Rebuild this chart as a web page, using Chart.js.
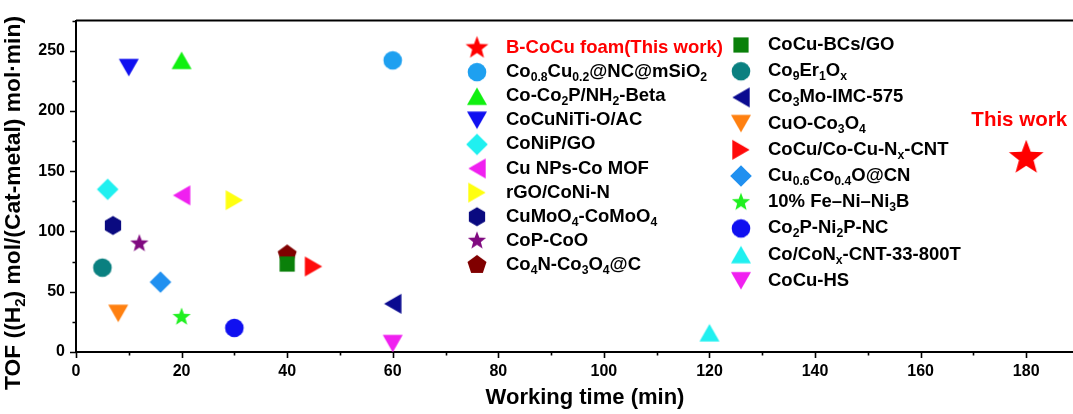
<!DOCTYPE html>
<html>
<head>
<meta charset="utf-8">
<style>
  html, body { margin: 0; padding: 0; background: #fff; overflow: hidden; }
  #wrap { width: 1092px; height: 414px; }
</style>
<script src="https://cdn.jsdelivr.net/npm/chart.js@4/dist/chart.umd.min.js"></script>
</head>
<body>
<div id="wrap"><canvas id="tofChart" width="1092" height="414"></canvas></div>
<script>
// Catalyst names; "_{...}" marks a subscript
const catalysts = [
  'B-CoCu foam(This work)',
  'Co_{0.8}Cu_{0.2}@NC@mSiO_{2}',
  'Co-Co_{2}P/NH_{2}-Beta',
  'CoCuNiTi-O/AC',
  'CoNiP/GO',
  'Cu NPs-Co MOF',
  'rGO/CoNi-N',
  'CuMoO_{4}-CoMoO_{4}',
  'CoP-CoO',
  'Co_{4}N-Co_{3}O_{4}@C',
  'CoCu-BCs/GO',
  'Co_{9}Er_{1}O_{x}',
  'Co_{3}Mo-IMC-575',
  'CuO-Co_{3}O_{4}',
  'CoCu/Co-Cu-N_{x}-CNT',
  'Cu_{0.6}Co_{0.4}O@CN',
  '10% Fe\u2013Ni\u2013Ni_{3}B',
  'Co_{2}P-Ni_{2}P-NC',
  'Co/CoN_{x}-CNT-33-800T',
  'CoCu-HS'
];

// Working time (min)
const workingTime = [180, 60, 20, 10, 6, 20, 30, 7, 12, 40,
                     40, 5, 60, 8, 45, 16, 20, 30, 120, 60];

// TOF ((H2) mol/(Cat-metal) mol·min)
const tofValues = [161, 242, 242, 236, 135, 130, 126, 105, 90, 81,
                   73, 70, 40, 32, 71, 58, 29, 20, 16, 7];

// Labelled tick values
const xTickLabels = [0, 20, 40, 60, 80, 100, 120, 140, 160, 180];
const yTickLabels = [0, 50, 100, 150, 200, 250];

const xTitle = 'Working time (min)';
const yTitle = 'TOF ((H_{2}) mol/(Cat-metal) mol\u00B7min)';
const highlightText = 'This work';

// Marker appearance per catalyst
const markerShapes = ['star', 'circle', 'triUp', 'triDown', 'diamond', 'triLeft', 'triRight', 'hexagon', 'star', 'pentagon',
                      'square', 'circle', 'triLeft', 'triDown', 'triRight', 'diamond', 'star', 'circle', 'triUp', 'triDown'];
const markerColors = ['#ff0000', '#1ea0f0', '#10f010', '#1010f0', '#20f0f0', '#f020f0', '#ffff10', '#0a0a80', '#800a80', '#800000',
                      '#0a800a', '#0a8080', '#0a0a90', '#ff8010', '#ff0a0a', '#2090f0', '#20f020', '#1010f0', '#20f0f0', '#f020f0'];

const FONT = '"Liberation Sans", Arial, Helvetica, sans-serif';

function polygonPath(g, n, r, startDeg) {
  for (let k = 0; k < n; k++) {
    const a = (startDeg + k * 360 / n) * Math.PI / 180;
    const px = r * Math.cos(a), py = r * Math.sin(a);
    if (k === 0) g.moveTo(px, py); else g.lineTo(px, py);
  }
}

function makeMarker(shape, color, scale) {
  const s = scale || 1;
  const size = Math.ceil(44 * s);
  const c = document.createElement('canvas');
  c.width = size; c.height = size;
  const g = c.getContext('2d');
  g.translate(size / 2, size / 2);
  g.fillStyle = color;
  g.beginPath();
  const h = 8.66 * s, hw = 10 * s;
  switch (shape) {
    case 'circle': g.arc(0, 0, 9.3 * s, 0, Math.PI * 2); break;
    case 'square': g.rect(-7.6 * s, -7.6 * s, 15.2 * s, 15.2 * s); break;
    case 'diamond': polygonPath(g, 4, 10.8 * s, -90); break;
    case 'triUp': g.moveTo(0, -h); g.lineTo(hw, h); g.lineTo(-hw, h); break;
    case 'triDown': g.moveTo(0, h); g.lineTo(hw, -h); g.lineTo(-hw, -h); break;
    case 'triLeft': g.moveTo(-h, 0); g.lineTo(h, -hw); g.lineTo(h, hw); break;
    case 'triRight': g.moveTo(h, 0); g.lineTo(-h, -hw); g.lineTo(-h, hw); break;
    case 'pentagon': polygonPath(g, 5, 10 * s, -90); break;
    case 'hexagon': polygonPath(g, 6, 9.4 * s, -90); break;
    case 'star': {
      const R = 9.6 * s, r = R * 0.42;
      for (let k = 0; k < 10; k++) {
        const a = (-90 + k * 36) * Math.PI / 180;
        const rr = k % 2 === 0 ? R : r;
        if (k === 0) g.moveTo(rr * Math.cos(a), rr * Math.sin(a));
        else g.lineTo(rr * Math.cos(a), rr * Math.sin(a));
      }
      break;
    }
  }
  g.closePath();
  g.fill();
  return c;
}

// Text with subscripts
function parseRich(str) {
  const parts = [];
  const re = /_\{([^}]*)\}/g;
  let last = 0, m;
  while ((m = re.exec(str))) {
    if (m.index > last) parts.push({ t: str.slice(last, m.index), sub: false });
    parts.push({ t: m[1], sub: true });
    last = re.lastIndex;
  }
  if (last < str.length) parts.push({ t: str.slice(last), sub: false });
  return parts;
}

function drawRich(ctx, str, x, y, size, color, align) {
  const parts = parseRich(str);
  const subSize = size * 0.66;
  const fontOf = sub => 'bold ' + (sub ? subSize : size) + 'px ' + FONT;
  let total = 0;
  parts.forEach(p => { ctx.font = fontOf(p.sub); p.w = ctx.measureText(p.t).width; total += p.w; });
  let cx = align === 'center' ? x - total / 2 : x;
  ctx.fillStyle = color;
  ctx.textBaseline = 'middle';
  ctx.textAlign = 'left';
  parts.forEach(p => {
    ctx.font = fontOf(p.sub);
    ctx.fillText(p.t, cx, y + (p.sub ? size * 0.3 : 0));
    cx += p.w;
  });
}

const plainName = s => s.replace(/_\{([^}]*)\}/g, '$1');

const plotMarkers = markerShapes.map((sh, i) => makeMarker(sh, markerColors[i], i === 0 ? 1.9 : 1));
const legendMarkers = markerShapes.map((sh, i) => makeMarker(sh, markerColors[i], i === 0 ? 1.25 : 1));

const datasets = catalysts.map((name, i) => ({
  label: plainName(name),
  data: [{ x: workingTime[i], y: tofValues[i] }],
  pointStyle: plotMarkers[i],
  pointRadius: 10,
  pointHoverRadius: 10,
  backgroundColor: markerColors[i],
  borderWidth: 0,
  order: name === 'CoCu-BCs/GO' ? -1 : i
}));

// Axis ticks (major labelled, minor unlabelled), frame, titles
const axisDecor = {
  id: 'axisDecor',
  afterDraw(chart) {
    const { ctx, chartArea: ca, scales: { x, y } } = chart;
    ctx.save();
    ctx.strokeStyle = '#000';
    ctx.lineWidth = 1.6;
    ctx.beginPath();
    x.ticks.forEach(t => {
      const px = Math.round(x.getPixelForValue(t.value)) + 0.5;
      const len = xTickLabels.includes(t.value) ? 6 : 3.5;
      ctx.moveTo(px, ca.bottom); ctx.lineTo(px, ca.bottom + len);
    });
    y.ticks.forEach(t => {
      const py = Math.round(y.getPixelForValue(t.value)) + 0.5;
      const len = yTickLabels.includes(t.value) ? 6 : 3.5;
      ctx.moveTo(ca.left, py); ctx.lineTo(ca.left - len, py);
    });
    ctx.stroke();
    // top and right frame
    ctx.lineWidth = 2;
    ctx.beginPath();
    ctx.moveTo(ca.left, ca.top); ctx.lineTo(ca.right, ca.top); ctx.lineTo(ca.right, ca.bottom);
    ctx.stroke();
    // axis titles
    drawRich(ctx, xTitle, ca.left + 509, 398, 22, '#000', 'center');
    ctx.translate(14, 203);
    ctx.rotate(-Math.PI / 2);
    drawRich(ctx, yTitle, 0, 0, 22.8, '#000', 'center');
    ctx.restore();
  }
};

// Two-column legend inside the plot, plus the highlight label
const innerLegend = {
  id: 'innerLegend',
  afterDraw(chart) {
    const { ctx, scales: { x, y } } = chart;
    ctx.save();
    const cols = [
      { mx: 477, tx: 506, y0: 48, dy: 24.1 },
      { mx: 741, tx: 768, y0: 45, dy: 26.2 }
    ];
    catalysts.forEach((name, i) => {
      const col = cols[i < 10 ? 0 : 1];
      const row = i % 10;
      const ry = col.y0 + row * col.dy;
      const m = legendMarkers[i];
      ctx.drawImage(m, col.mx - m.width / 2, ry - m.height / 2);
      drawRich(ctx, name, col.tx, ry, 18.5, i === 0 ? '#ff0000' : '#000', 'left');
    });
    const sx = x.getPixelForValue(workingTime[0]);
    const sy = y.getPixelForValue(tofValues[0]);
    ctx.font = 'bold 20.5px ' + FONT;
    ctx.fillStyle = '#ff0000';
    ctx.textAlign = 'center';
    ctx.textBaseline = 'middle';
    ctx.fillText(highlightText, sx - 7, sy - 38);
    ctx.restore();
  }
};

new Chart(document.getElementById('tofChart'), {
  type: 'scatter',
  data: { datasets },
  options: {
    responsive: false,
    animation: false,
    devicePixelRatio: 1,
    layout: { padding: { top: 19, right: 13, left: 0, bottom: 0 } },
    plugins: { legend: { display: false }, tooltip: { enabled: false } },
    elements: { point: { borderWidth: 0 } },
    scales: {
      x: {
        type: 'linear', position: 'bottom', min: 0, max: 190,
        border: { display: true, color: '#000', width: 2 },
        grid: { display: true, drawOnChartArea: false, drawTicks: false },
        ticks: {
          stepSize: 10, autoSkip: false, maxRotation: 0, padding: 10, color: '#000',
          font: { family: FONT, size: 16, weight: 'bold' },
          callback: v => xTickLabels.includes(v) ? String(v) : ''
        },
        afterFit: s => { s.height = 62; }
      },
      y: {
        type: 'linear', position: 'left', min: 0, max: 275,
        border: { display: true, color: '#000', width: 2 },
        grid: { display: true, drawOnChartArea: false, drawTicks: false },
        ticks: {
          stepSize: 25, autoSkip: false, padding: 11, color: '#000',
          font: { family: FONT, size: 16, weight: 'bold' },
          callback: v => yTickLabels.includes(v) ? String(v) : ''
        },
        afterFit: s => { s.width = 76; }
      }
    }
  },
  plugins: [axisDecor, innerLegend]
});
</script>
</body>
</html>
